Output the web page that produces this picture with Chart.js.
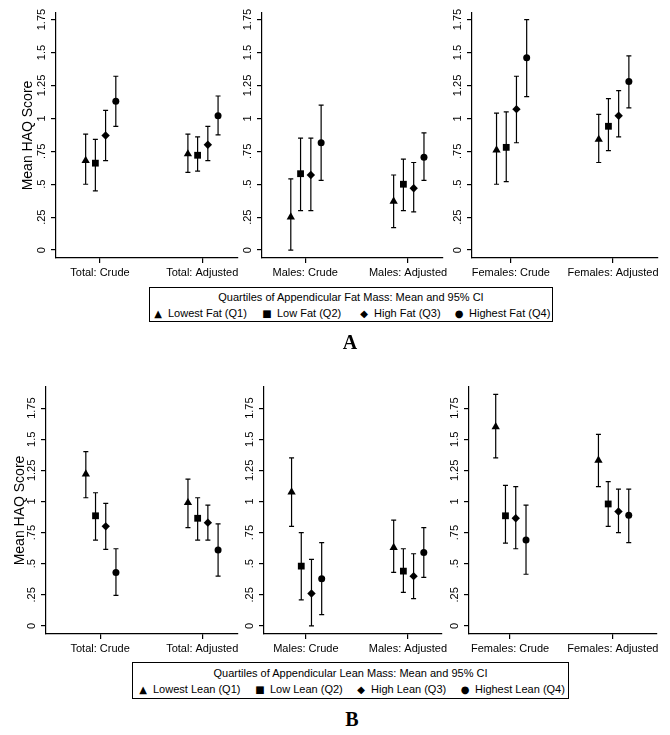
<!DOCTYPE html>
<html>
<head>
<meta charset="utf-8">
<script src="https://cdn.jsdelivr.net/npm/chart.js@4.4.1/dist/chart.umd.min.js"></script>
<style>
  body { margin: 0; background: #fff; width: 670px; height: 735px; position: relative; overflow: hidden;
         font-family: "Liberation Sans", Arial, sans-serif; color: #000; }
  canvas { position: absolute; }
  .legend { position: absolute; border: 1px solid #000; box-sizing: border-box; font-size: 11px; }
  .legend .ttl { position: absolute; left: 0; right: 0; text-align: center; white-space: nowrap; }
  .legend .item { position: absolute; white-space: nowrap; line-height: 14px; }
  .legend .mk { display: inline-block; width: 10px; text-align: center; margin-right: 5px; font-size: 10px;
                font-family: "DejaVu Sans", sans-serif; }
  .tag { position: absolute; font-family: "Liberation Serif", "Times New Roman", serif; font-weight: bold; font-size: 20px;
         width: 40px; text-align: center; }
</style>
</head>
<body>
<canvas id="a1"></canvas><canvas id="a2"></canvas><canvas id="a3"></canvas>
<canvas id="b1"></canvas><canvas id="b2"></canvas><canvas id="b3"></canvas>

<div class="legend" id="legA" style="left:149px;top:287px;width:404px;height:35px;"></div>
<div class="tag" style="left:330px;top:331px;">A</div>
<div class="legend" id="legB" style="left:132px;top:662px;width:437px;height:37px;"></div>
<div class="tag" style="left:332px;top:708px;">B</div>

<script>
// Panels: Total / Males / Females, each with Crude and Adjusted estimates
const subsets = ['Total', 'Males', 'Females'];
const groups = ['Crude', 'Adjusted'];
const yTicks = [0, 0.25, 0.5, 0.75, 1, 1.25, 1.5, 1.75];

const fatLegendTitle = 'Quartiles of Appendicular Fat Mass: Mean and 95% CI';
const fatLabels = ['Lowest Fat (Q1)', 'Low Fat (Q2)', 'High Fat (Q3)', 'Highest Fat (Q4)'];
const leanLegendTitle = 'Quartiles of Appendicular Lean Mass: Mean and 95% CI';
const leanLabels = ['Lowest Lean (Q1)', 'Low Lean (Q2)', 'High Lean (Q3)', 'Highest Lean (Q4)'];

// order: Total crude, Total adj, Males crude, Males adj, Females crude, Females adj
const fatQ1Mean = [0.68, 0.73, 0.25, 0.37, 0.76, 0.84];
const fatQ1Lo   = [0.50, 0.59, 0.00, 0.17, 0.50, 0.665];
const fatQ1Hi   = [0.88, 0.88, 0.54, 0.57, 1.04, 1.03];
const fatQ2Mean = [0.66, 0.72, 0.58, 0.50, 0.78, 0.94];
const fatQ2Lo   = [0.45, 0.60, 0.30, 0.30, 0.52, 0.755];
const fatQ2Hi   = [0.84, 0.86, 0.85, 0.69, 1.05, 1.15];
const fatQ3Mean = [0.87, 0.80, 0.57, 0.47, 1.07, 1.02];
const fatQ3Lo   = [0.68, 0.68, 0.30, 0.29, 0.815, 0.86];
const fatQ3Hi   = [1.06, 0.94, 0.85, 0.665, 1.32, 1.21];
const fatQ4Mean = [1.13, 1.02, 0.815, 0.705, 1.46, 1.28];
const fatQ4Lo   = [0.94, 0.875, 0.53, 0.53, 1.165, 1.08];
const fatQ4Hi   = [1.32, 1.17, 1.10, 0.89, 1.75, 1.475];

const leanQ1Mean = [1.22, 0.99, 1.075, 0.63, 1.60, 1.33];
const leanQ1Lo   = [1.03, 0.79, 0.80, 0.43, 1.35, 1.12];
const leanQ1Hi   = [1.40, 1.18, 1.35, 0.85, 1.86, 1.54];
const leanQ2Mean = [0.885, 0.865, 0.48, 0.44, 0.885, 0.98];
const leanQ2Lo   = [0.69, 0.69, 0.21, 0.27, 0.665, 0.80];
const leanQ2Hi   = [1.07, 1.03, 0.75, 0.62, 1.13, 1.16];
const leanQ3Mean = [0.80, 0.83, 0.26, 0.40, 0.865, 0.92];
const leanQ3Lo   = [0.615, 0.69, 0.00, 0.22, 0.62, 0.75];
const leanQ3Hi   = [0.985, 0.97, 0.535, 0.58, 1.12, 1.10];
const leanQ4Mean = [0.43, 0.61, 0.38, 0.59, 0.69, 0.89];
const leanQ4Lo   = [0.245, 0.40, 0.09, 0.39, 0.415, 0.67];
const leanQ4Hi   = [0.62, 0.82, 0.67, 0.79, 0.97, 1.10];

// marker style per quartile
const quartileOffset = [-0.14, -0.045, 0.055, 0.155];
const markerStyles = ['triangle', 'rect', 'rectRot', 'circle'];
const markerRadius = [4.8, 4.8, 4.2, 3.5];
const markerGlyphs = ['\u25B2', '\u25A0', '\u25C6', '\u25CF'];

const FONT = '"Liberation Sans", Arial, sans-serif';

// error bars drawn from lo/hi through the y scale
const errorBars = {
    id: 'errorBars',
    beforeDatasetsDraw(chart) {
        const ctx = chart.ctx;
        const y = chart.scales.y;
        ctx.save();
        ctx.strokeStyle = '#000';
        ctx.lineWidth = 1.2;
        chart.data.datasets.forEach((ds, i) => {
            chart.getDatasetMeta(i).data.forEach((pt, j) => {
                const raw = ds.data[j];
                const top = y.getPixelForValue(raw.hi);
                const bot = y.getPixelForValue(raw.lo);
                ctx.beginPath();
                ctx.moveTo(pt.x, top); ctx.lineTo(pt.x, bot);
                ctx.moveTo(pt.x - 2.5, top); ctx.lineTo(pt.x + 2.5, top);
                ctx.moveTo(pt.x - 2.5, bot); ctx.lineTo(pt.x + 2.5, bot);
                ctx.stroke();
            });
        });
        ctx.restore();
    }
};

const buildPanel = (canvasId, p, means, los, his, row, geo) => {
    const cv = document.getElementById(canvasId);
    cv.width = geo.width; cv.height = row.height;
    cv.style.left = geo.left + 'px'; cv.style.top = row.top + 'px';

    const datasets = means.map((m, q) => ({
        label: 'Q' + (q + 1),
        pointStyle: markerStyles[q],
        pointRadius: markerRadius[q],
        backgroundColor: '#000',
        borderColor: '#000',
        borderWidth: 0,
        data: groups.map((g, k) => ({
            x: k + 1 + quartileOffset[q],
            y: m[p * 2 + k],
            lo: los[q][p * 2 + k],
            hi: his[q][p * 2 + k]
        }))
    }));

    return new Chart(cv, {
        type: 'scatter',
        data: { datasets: datasets },
        options: {
            responsive: false,
            animation: false,
            events: [],
            layout: { padding: { top: row.padTop, right: geo.padR, left: 0, bottom: 0 } },
            plugins: { legend: { display: false }, tooltip: { enabled: false } },
            scales: {
                x: {
                    type: 'linear',
                    min: geo.xMin, max: geo.xMax,
                    afterBuildTicks: s => { s.ticks = [{ value: 1 }, { value: 2 }]; },
                    afterFit: s => { s.height = 24; },
                    grid: { drawOnChartArea: false, drawTicks: true, tickLength: 5, color: '#000', lineWidth: 1.2 },
                    border: { display: true, color: '#000', width: 1.2 },
                    ticks: {
                        color: '#000', font: { family: FONT, size: 11 }, padding: 3,
                        maxRotation: 0, minRotation: 0, autoSkip: false,
                        callback: v => subsets[p] + ': ' + groups[v - 1]
                    }
                },
                y: {
                    min: row.yMin, max: row.yMax,
                    afterBuildTicks: s => { s.ticks = yTicks.map(v => ({ value: v })); },
                    afterFit: s => { s.width = geo.yw; },
                    grid: { drawOnChartArea: false, drawTicks: true, tickLength: 5, color: '#000', lineWidth: 1.2 },
                    border: { display: true, color: '#000', width: 1.2 },
                    ticks: {
                        color: '#000', font: { family: FONT, size: 11 }, padding: -2,
                        minRotation: 90, maxRotation: 90, crossAlign: 'center', autoSkip: false,
                        callback: v => v === 0 ? '0' : String(v).replace(/^0/, '')
                    },
                    title: {
                        display: p === 0,
                        text: 'Mean HAQ Score',
                        color: '#000',
                        font: { family: FONT, size: 14 },
                        padding: { top: row.titlePad, bottom: 0 }
                    }
                }
            }
        },
        plugins: [errorBars]
    });
};

const rowA = { top: 0, height: 282, padTop: 13, yMin: -0.06, yMax: 1.80, titlePad: 19.6 };
const rowB = { top: 370, height: 288, padTop: 17, yMin: -0.065, yMax: 1.92, titlePad: 11.6 };

const geoA = [
    { left: 0,   width: 248, yw: 56, padR: 10, xMin: 0.57, xMax: 2.35 },
    { left: 222, width: 231, yw: 40, padR: 10, xMin: 0.58, xMax: 2.34 },
    { left: 432, width: 236, yw: 40, padR: 10, xMin: 0.62, xMax: 2.44 }
];
const geoB = [
    { left: 0,   width: 248, yw: 46, padR: 10, xMin: 0.47, xMax: 2.35 },
    { left: 224, width: 228, yw: 40, padR: 10, xMin: 0.59, xMax: 2.33 },
    { left: 429, width: 238, yw: 40, padR: 10, xMin: 0.60, xMax: 2.43 }
];

const fatMeans = [fatQ1Mean, fatQ2Mean, fatQ3Mean, fatQ4Mean];
const fatLos = [fatQ1Lo, fatQ2Lo, fatQ3Lo, fatQ4Lo];
const fatHis = [fatQ1Hi, fatQ2Hi, fatQ3Hi, fatQ4Hi];
const leanMeans = [leanQ1Mean, leanQ2Mean, leanQ3Mean, leanQ4Mean];
const leanLos = [leanQ1Lo, leanQ2Lo, leanQ3Lo, leanQ4Lo];
const leanHis = [leanQ1Hi, leanQ2Hi, leanQ3Hi, leanQ4Hi];

['a1', 'a2', 'a3'].forEach((id, p) => buildPanel(id, p, fatMeans, fatLos, fatHis, rowA, geoA[p]));
['b1', 'b2', 'b3'].forEach((id, p) => buildPanel(id, p, leanMeans, leanLos, leanHis, rowB, geoB[p]));

// shared legends under each figure
const fillLegend = (id, title, labels, offsets, titleTop, itemTop) => {
    const box = document.getElementById(id);
    const t = document.createElement('div');
    t.className = 'ttl'; t.style.top = titleTop + 'px'; t.textContent = title;
    box.appendChild(t);
    labels.forEach((lab, q) => {
        const it = document.createElement('div');
        it.className = 'item';
        it.style.left = offsets[q] + 'px'; it.style.top = itemTop + 'px';
        it.innerHTML = '<span class="mk">' + markerGlyphs[q] + '</span>' + lab;
        box.appendChild(it);
    });
};
fillLegend('legA', fatLegendTitle, fatLabels, [3, 112, 209, 304], 3, 18);
fillLegend('legB', leanLegendTitle, leanLabels, [5, 122, 223, 327], 4, 19);
</script>
</body>
</html>
